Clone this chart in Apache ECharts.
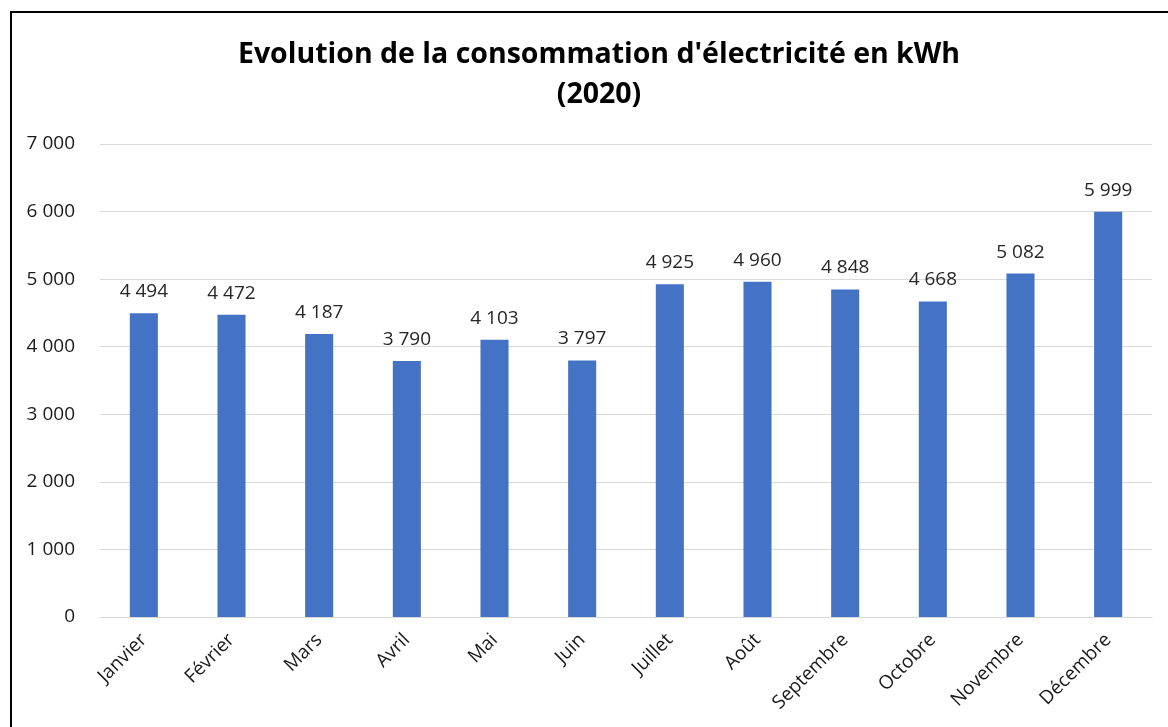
<!DOCTYPE html>
<html>
<head>
<meta charset="utf-8">
<script src="https://cdn.jsdelivr.net/npm/echarts@6/dist/echarts.min.js"></script>
<style>
html,body{margin:0;padding:0;background:#fff;overflow:hidden;}
#frame{position:absolute;left:10px;top:11px;width:1180px;height:740px;border:2px solid #000;box-sizing:border-box;}
#chart{position:absolute;left:0;top:0;width:1168px;height:727px;}
</style>
</head>
<body>
<div id="frame"></div>
<div id="chart"></div>
<script>
const categories = ['Janvier','Février','Mars','Avril','Mai','Juin','Juillet','Août','Septembre','Octobre','Novembre','Décembre'];
const values = [4494, 4472, 4187, 3790, 4103, 3797, 4925, 4960, 4848, 4668, 5082, 5999];
const titleLines = ["Evolution de la consommation d'électricité en kWh", "(2020)"];

function fmt(v){ return String(v).replace(/\B(?=(\d{3})+(?!\d))/g, ' '); }

const chart = echarts.init(document.getElementById('chart'), null, {renderer:'canvas'});
chart.setOption({
  backgroundColor: 'transparent',
  animation: false,
  title: {
    text: titleLines.join('\n'),
    left: 594, top: 30, textAlign: 'center',
    textStyle: {fontFamily: 'Open Sans', fontWeight: 'bold', fontSize: 28.5, color: '#000', lineHeight: 40}
  },
  grid: {left: 100, right: 16, top: 144, bottom: 110, containLabel: false},
  xAxis: {
    type: 'category', data: categories,
    axisLine: {lineStyle: {color: '#d9d9d9', width: 1}},
    axisTick: {show: false},
    axisLabel: {rotate: 45, color: '#1a1a1a', fontFamily: 'Open Sans', fontSize: 19, margin: 20, interval: 0}
  },
  yAxis: {
    type: 'value', min: 0, max: 7000, interval: 1000,
    axisLine: {show: false}, axisTick: {show: false},
    splitLine: {lineStyle: {color: '#d9d9d9', width: 1}},
    axisLabel: {color: '#1a1a1a', fontFamily: 'Open Sans', fontSize: 19, margin: 25, formatter: v => fmt(v)}
  },
  series: [{
    type: 'bar', data: values, barWidth: '32%',
    itemStyle: {color: '#4472c4'},
    label: {show: true, position: 'top', distance: 12, color: '#262626', fontFamily: 'Open Sans', fontSize: 19, formatter: p => fmt(p.value)}
  }]
});
</script>
</body>
</html>
